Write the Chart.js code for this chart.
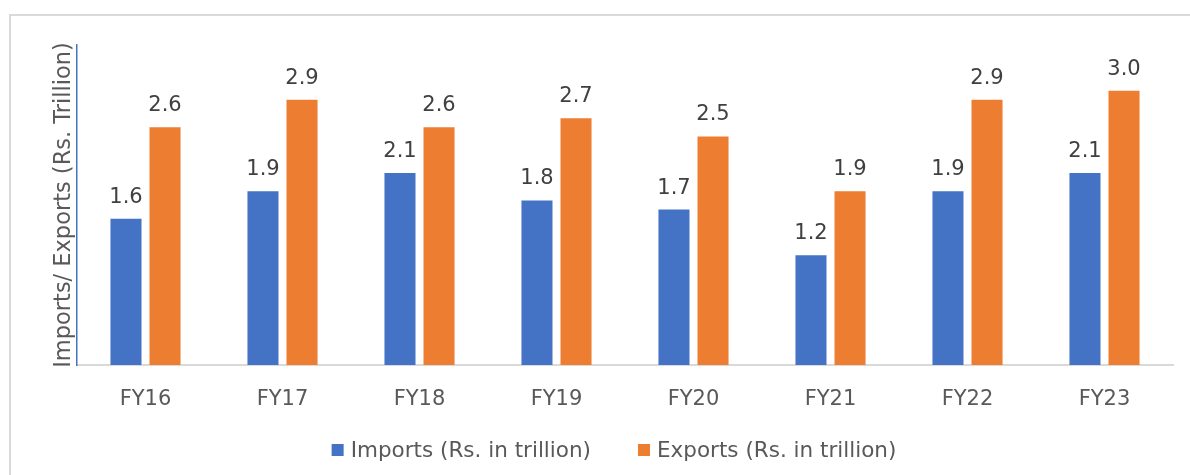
<!DOCTYPE html>
<html>
<head>
<meta charset="utf-8">
<script src="https://cdn.jsdelivr.net/npm/chart.js@4"></script>
<style>
  html, body { margin: 0; padding: 0; background: #fff; }
  #wrap { position: relative; width: 1190px; height: 475px; overflow: hidden; }
  #frame { position: absolute; left: 9px; top: 14px; width: 1300px; height: 500px; border: 2px solid #d9d9d9; box-sizing: border-box; }
  canvas { position: absolute; left: 0; top: 0; }
</style>
</head>
<body>
<div id="wrap">
  <div id="frame"></div>
  <canvas id="tradeChart" width="1190" height="475"></canvas>
</div>
<script>
// Chart data
const years = ['FY16', 'FY17', 'FY18', 'FY19', 'FY20', 'FY21', 'FY22', 'FY23'];
const imports = [1.6, 1.9, 2.1, 1.8, 1.7, 1.2, 1.9, 2.1];
const exports = [2.6, 2.9, 2.6, 2.7, 2.5, 1.9, 2.9, 3.0];

const FONT = '"DejaVu Sans", Verdana, sans-serif';

// simple value labels above each bar
const barLabels = {
    id: 'barLabels',
    afterDatasetsDraw(chart) {
        const ctx = chart.ctx;
        ctx.save();
        ctx.font = '21px ' + FONT;
        ctx.fillStyle = '#404040';
        ctx.textAlign = 'center';
        ctx.textBaseline = 'alphabetic';
        chart.data.datasets.forEach((ds, i) => {
            chart.getDatasetMeta(i).data.forEach((bar, j) => {
                ctx.fillText(ds.data[j].toFixed(1), bar.x, bar.y - 16);
            });
        });
        ctx.restore();
    }
};

// legend drawn by hand so the spacing matches the original (wider gap between items)
const bottomLegend = {
    id: 'bottomLegend',
    afterDraw(chart) {
        const ctx = chart.ctx;
        const box = 12, gap = 7, itemGap = 47, cy = 450;
        ctx.save();
        ctx.font = '21.5px ' + FONT;
        ctx.textBaseline = 'middle';
        ctx.textAlign = 'left';
        const items = chart.data.datasets.map(ds => ({
            text: ds.label,
            color: ds.backgroundColor,
            w: box + gap + ctx.measureText(ds.label).width
        }));
        const total = items.reduce((s, it) => s + it.w, 0) + itemGap * (items.length - 1);
        let x = (chart.chartArea.left + chart.chartArea.right) / 2 - total / 2 - 11;
        items.forEach(it => {
            ctx.fillStyle = it.color;
            ctx.fillRect(x, cy - box / 2, box, box);
            ctx.fillStyle = '#595959';
            ctx.fillText(it.text, x + box + gap, cy + 1);
            x += it.w + itemGap;
        });
        ctx.restore();
    }
};

new Chart(document.getElementById('tradeChart'), {
    type: 'bar',
    data: {
        labels: years,
        datasets: [
            {
                label: 'Imports (Rs. in trillion)',
                data: imports,
                backgroundColor: '#4472c4',
                categoryPercentage: 0.57,
                barPercentage: 0.795
            },
            {
                label: 'Exports (Rs. in trillion)',
                data: exports,
                backgroundColor: '#ed7d31',
                categoryPercentage: 0.57,
                barPercentage: 0.795
            }
        ]
    },
    options: {
        responsive: false,
        animation: false,
        layout: { padding: { top: 45, right: 17, left: 51, bottom: 51 } },
        plugins: {
            legend: { display: false },
            tooltip: { enabled: false }
        },
        scales: {
            x: {
                grid: { display: false, drawTicks: false },
                border: { color: '#d9d9d9', width: 2 },
                ticks: { font: { family: FONT, size: 21 }, color: '#595959', padding: 22 },
                afterFit(scale) { scale.height = 59; }
            },
            y: {
                min: 0,
                max: 3.5,
                grid: { display: false, drawTicks: false },
                border: { color: '#4472c4', width: 1.5 },
                ticks: { display: false },
                title: {
                    display: true,
                    text: 'Imports/ Exports (Rs. Trillion)',
                    font: { family: FONT, size: 22.5 },
                    color: '#595959',
                    padding: { top: 0, bottom: 0 }
                },
                afterFit(scale) { scale.width = 26; }
            }
        }
    },
    plugins: [barLabels, bottomLegend]
});
</script>
</body>
</html>
